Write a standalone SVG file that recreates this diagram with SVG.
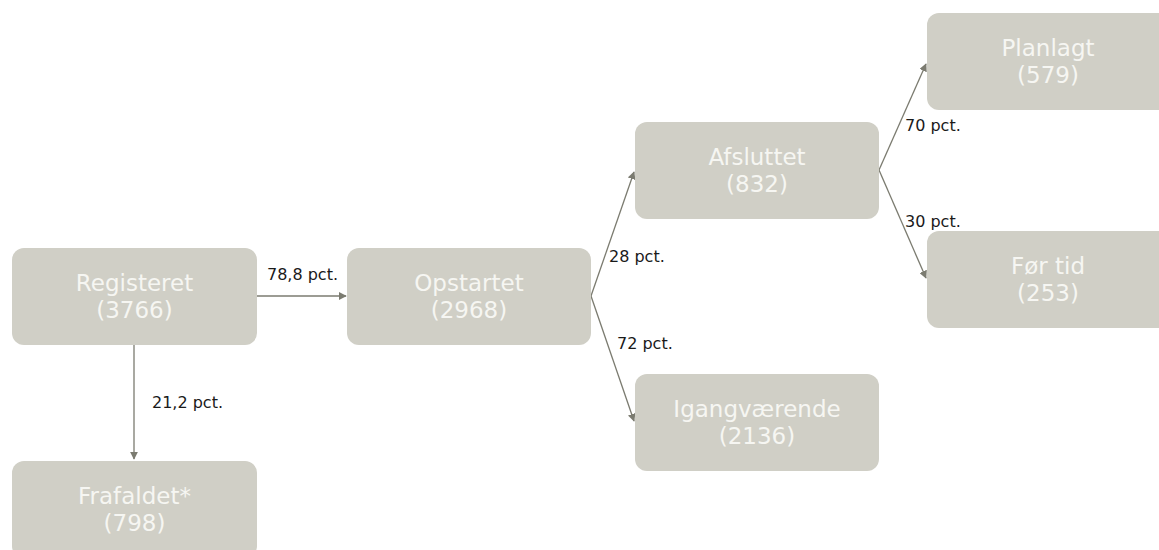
<svg xmlns="http://www.w3.org/2000/svg" width="1159" height="550" viewBox="0 0 1159 550">
<style>
.box{fill:#d0cfc6}
.nt{font-family:"DejaVu Sans",Verdana,sans-serif;font-size:23px;fill:#f6f6f2;text-anchor:middle}
.el{font-family:"DejaVu Sans",Verdana,sans-serif;font-size:16px;fill:#1a1a1a}
.cn{stroke:#7b7b70;stroke-width:1.3;fill:none;marker-end:url(#ah)}
</style>
<defs>
<marker id="ah" viewBox="0 0 10 10" refX="9" refY="5" markerWidth="8" markerHeight="8" markerUnits="userSpaceOnUse" orient="auto">
<path d="M0,0 L10,5 L0,10 z" fill="#7b7b70"/>
</marker>
</defs>
<g id="connectors">
<line class="cn" x1="257" y1="296" x2="346" y2="296"/>
<line class="cn" x1="134" y1="345" x2="134" y2="459"/>
<line class="cn" x1="591" y1="296" x2="634" y2="172"/>
<line class="cn" x1="591" y1="296" x2="634" y2="421"/>
<line class="cn" x1="879" y1="170" x2="926" y2="64"/>
<line class="cn" x1="879" y1="170" x2="926" y2="278"/>
<text class="el" x="267" y="280">78,8 pct.</text>
<text class="el" x="152" y="408">21,2 pct.</text>
<text class="el" x="609" y="262">28 pct.</text>
<text class="el" x="617" y="349">72 pct.</text>
<text class="el" x="905" y="131">70 pct.</text>
<text class="el" x="905" y="227">30 pct.</text>
</g>
<g id="registeret">
<rect class="box" x="12" y="248" width="245" height="97" rx="12"/>
<text class="nt" x="134.5" y="291">Registeret</text>
<text class="nt" x="134.5" y="318">(3766)</text>
</g>
<g id="opstartet">
<rect class="box" x="347" y="248" width="244" height="97" rx="12"/>
<text class="nt" x="469" y="291">Opstartet</text>
<text class="nt" x="469" y="318">(2968)</text>
</g>
<g id="afsluttet">
<rect class="box" x="635" y="122" width="244" height="97" rx="12"/>
<text class="nt" x="757" y="165">Afsluttet</text>
<text class="nt" x="757" y="192">(832)</text>
</g>
<g id="igangvaerende">
<rect class="box" x="635" y="374" width="244" height="97" rx="12"/>
<text class="nt" x="757" y="417">Igangværende</text>
<text class="nt" x="757" y="444">(2136)</text>
</g>
<g id="planlagt">
<rect class="box" x="927" y="13" width="244" height="97" rx="12"/>
<text class="nt" x="1048" y="56">Planlagt</text>
<text class="nt" x="1048" y="83">(579)</text>
</g>
<g id="foertid">
<rect class="box" x="927" y="231" width="244" height="97" rx="12"/>
<text class="nt" x="1048" y="274">Før tid</text>
<text class="nt" x="1048" y="301">(253)</text>
</g>
<g id="frafaldet">
<rect class="box" x="12" y="461" width="245" height="97" rx="12"/>
<text class="nt" x="134.5" y="504">Frafaldet*</text>
<text class="nt" x="134.5" y="531">(798)</text>
</g>
</svg>
